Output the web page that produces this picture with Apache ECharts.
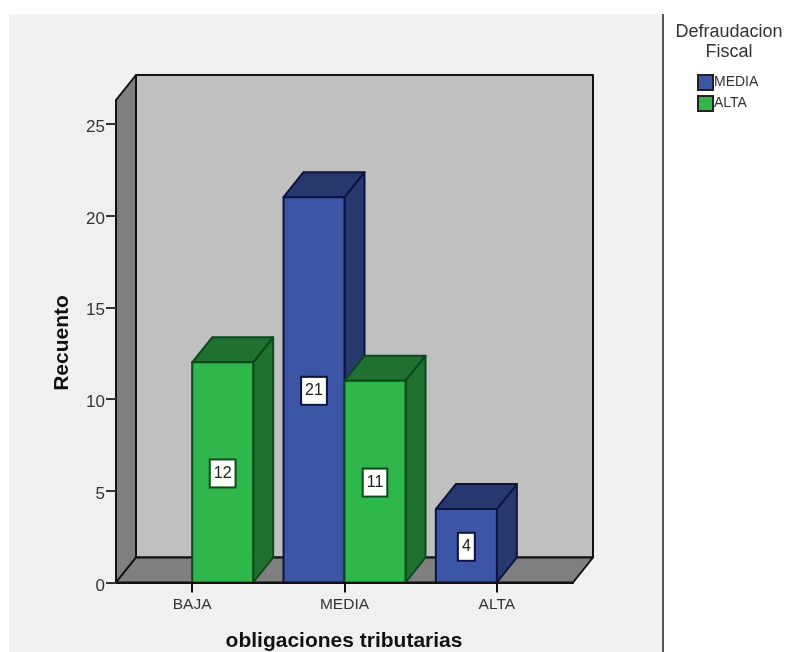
<!DOCTYPE html>
<html><head><meta charset="utf-8">
<style>html,body{margin:0;padding:0;background:#fff}#c{width:786px;height:652px}</style>
<script src="https://cdn.jsdelivr.net/npm/echarts@6/dist/echarts.min.js"></script>
</head><body><div id="c"></div>
<script>
const categories = ['BAJA', 'MEDIA', 'ALTA'];
const mediaValues = [null, 21, 4];
const altaValues = [12, 11, null];
const yTicks = [0, 5, 10, 15, 20, 25];
const seriesNames = ['MEDIA', 'ALTA'];
const legendTitle = 'Defraudacion\nFiscal';
const xTitle = 'obligaciones tributarias';
const yTitle = 'Recuento';

const DX = 20, DY = 25, BAR = 61;
const palettes = {
  MEDIA: {front:'#3c55a5', top:'#27386f', side:'#27386f', line:'#0b1440'},
  ALTA: {front:'#30b74b', top:'#1f7031', side:'#1f7031', line:'#0a4a1a'}
};
const FONT = '"Liberation Sans", Arial, sans-serif';

function wallsRender(params, api) {
  const c = params.coordSys;
  const l = c.x, r = c.x + c.width, t = c.y, b = c.y + c.height;
  const line = {stroke:'#111', lineWidth:2, lineJoin:'round'};
  const poly = (pts, fill) => ({type:'polygon', shape:{points:pts}, style:Object.assign({fill}, line)});
  return {type:'group', children:[
    poly([[l+DX,t-DY],[r+DX,t-DY],[r+DX,b-DY],[l+DX,b-DY]], '#c0c0c0'),
    poly([[l,t],[l+DX,t-DY],[l+DX,b-DY],[l,b]], '#7f7f7f'),
    poly([[l,b],[l+DX,b-DY],[r+DX,b-DY],[r,b]], '#7f7f7f')
  ]};
}
function barRender(name, offset) {
  const p = palettes[name];
  return function (params, api) {
    const v = api.value(1);
    if (v === null || isNaN(v)) return;
    const base = api.coord([api.value(0), 0]);
    const topP = api.coord([api.value(0), v]);
    const x0 = base[0] + offset * BAR, x1 = x0 + BAR, y0 = base[1], y1 = topP[1];
    const st = f => ({fill:f, stroke:p.line, lineWidth:2, lineJoin:'round'});
    return {type:'group', children:[
      {type:'polygon', shape:{points:[[x1,y0],[x1+DX,y0-DY],[x1+DX,y1-DY],[x1,y1]]}, style:st(p.side)},
      {type:'polygon', shape:{points:[[x0,y1],[x0+DX,y1-DY],[x1+DX,y1-DY],[x1,y1]]}, style:st(p.top)},
      {type:'rect', shape:{x:x0,y:y1,width:BAR,height:y0-y1}, style:st(p.front)},
      {type:'text', x:(x0+x1)/2, y:(y0+y1)/2+1, style:{
        text:String(v), fill:'#222', font:'16px '+FONT, align:'center', verticalAlign:'middle',
        backgroundColor:'#fdfffb', borderColor:p.line, borderWidth:2, padding:[5,3,5,3]
      }, z2:10}
    ]};
  };
}
const chart = echarts.init(document.getElementById('c'), null, {renderer:'canvas'});
chart.setOption({
  animation:false,
  backgroundColor:'#ffffff',
  graphic:[
    {type:'rect', z:-10, shape:{x:9,y:14.5,width:654,height:638}, style:{fill:'#f0f0f0'}},
    {type:'line', z:-9, shape:{x1:663,y1:14,x2:663,y2:652}, style:{stroke:'#555',lineWidth:2}},
    {type:'text', x:729, y:22, style:{text:legendTitle, font:'18px '+FONT, fill:'#333', align:'center', lineHeight:20}},
    {type:'text', x:62, y:343, rotation:Math.PI/2, style:{text:yTitle, font:'bold 21px '+FONT, fill:'#111', align:'center', verticalAlign:'middle'}},
    {type:'text', x:344, y:641, style:{text:xTitle, font:'bold 21px '+FONT, fill:'#111', align:'center', verticalAlign:'middle'}}
  ],
  legend:{
    orient:'vertical', left:697, top:74, padding:0, itemWidth:15, itemHeight:15, itemGap:4, icon:'rect',
    data:seriesNames, selectedMode:false,
    textStyle:{fontFamily:FONT, fontSize:14, color:'#333', padding:[0,0,0,-4]}
  },
  grid:{left:116, width:457, top:100, height:482.5},
  xAxis:{
    type:'category', data:categories, boundaryGap:true, z:5,
    axisLine:{lineStyle:{color:'#111',width:2}},
    axisTick:{show:true, alignWithLabel:true, length:10, lineStyle:{color:'#111',width:2}},
    axisLabel:{fontFamily:FONT, fontSize:15.5, color:'#333', margin:14},
    splitLine:{show:false}
  },
  yAxis:{
    type:'value', min:0, max:26.3, z:5,
    axisLine:{show:true, lineStyle:{color:'#111',width:2}},
    axisTick:{show:true, length:10, lineStyle:{color:'#333',width:2}, customValues:yTicks},
    axisLabel:{fontFamily:FONT, fontSize:17, color:'#333', margin:11, verticalAlign:'top', lineHeight:17, padding:[-5,0,0,0], customValues:yTicks},
    splitLine:{show:false}
  },
  series:[
    {type:'custom', name:'walls', silent:true, z:1, renderItem:wallsRender, data:[[0,0]], clip:false, encode:{x:0,y:1}, legendHoverLink:false},
    {type:'custom', name:'MEDIA', z:3, renderItem:barRender('MEDIA',-1), clip:false, itemStyle:{color:palettes.MEDIA.front, borderColor:'#222', borderWidth:1.5},
     data:categories.map((c,i)=>[i,mediaValues[i]]), encode:{x:0,y:1}},
    {type:'custom', name:'ALTA', z:3, renderItem:barRender('ALTA',0), clip:false, itemStyle:{color:palettes.ALTA.front, borderColor:'#222', borderWidth:1.5},
     data:categories.map((c,i)=>[i,altaValues[i]]), encode:{x:0,y:1}}
  ]
});
</script></body></html>
